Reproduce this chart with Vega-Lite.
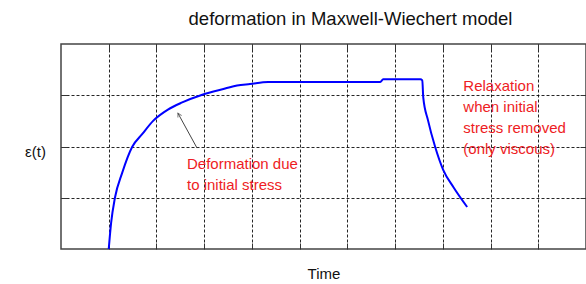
{
  "$schema": "https://vega.github.io/schema/vega-lite/v6.json",
  "width": 525,
  "height": 205,
  "autosize": {"type": "none"},
  "padding": {"left": 61, "top": 44, "right": 0, "bottom": 35},
  "background": "white",
  "title": {
    "text": "deformation in Maxwell-Wiechert model",
    "font": "Liberation Sans",
    "fontSize": 18.5,
    "fontWeight": "normal",
    "color": "#111",
    "anchor": "middle",
    "frame": "group",
    "dx": 27,
    "offset": 15
  },
  "config": {
    "view": {"stroke": "#444", "strokeWidth": 1.5},
    "axis": {
      "grid": true,
      "gridColor": "#000",
      "gridDash": [3, 2],
      "gridWidth": 1,
      "gridOpacity": 0.85,
      "labels": false,
      "domain": false,
      "tickColor": "#333",
      "tickSize": -6,
      "tickWidth": 1,
      "titleFont": "Liberation Sans",
      "titleFontSize": 15,
      "titleFontWeight": "normal",
      "titleColor": "#111"
    }
  },
  "datasets": {
    "curve": [
      {"t": 1.0, "v": 0.0},
      {"t": 1.05, "v": 0.51},
      {"t": 1.13, "v": 1.0},
      {"t": 1.28, "v": 1.48},
      {"t": 1.49, "v": 1.99},
      {"t": 1.7, "v": 2.24},
      {"t": 1.93, "v": 2.5},
      {"t": 2.24, "v": 2.72},
      {"t": 2.54, "v": 2.86},
      {"t": 2.96, "v": 3.01},
      {"t": 3.44, "v": 3.13},
      {"t": 3.69, "v": 3.19},
      {"t": 3.96, "v": 3.22},
      {"t": 4.34, "v": 3.26},
      {"t": 4.95, "v": 3.26},
      {"t": 5.91, "v": 3.26},
      {"t": 6.69, "v": 3.26},
      {"t": 6.75, "v": 3.31},
      {"t": 7.53, "v": 3.31},
      {"t": 7.57, "v": 3.29},
      {"t": 7.59, "v": 2.96},
      {"t": 7.69, "v": 2.51},
      {"t": 7.84, "v": 1.99},
      {"t": 8.01, "v": 1.54},
      {"t": 8.22, "v": 1.21},
      {"t": 8.51, "v": 0.82}
    ],
    "notes": [
      {"t": 2.64, "v": 1.56, "label": "Deformation due\nto initial stress"},
      {"t": 8.43, "v": 3.08, "label": "Relaxation\nwhen initial\nstress removed\n(only viscous)"}
    ],
    "arrow": [
      {"t": 2.85, "v": 1.97, "t2": 2.45, "v2": 2.65}
    ]
  },
  "layer": [
    {
      "data": {"name": "curve"},
      "mark": {"type": "line", "color": "#0000ff", "strokeWidth": 2, "clip": true, "interpolate": "monotone"},
      "encoding": {
        "x": {
          "field": "t", "type": "quantitative",
          "scale": {"domain": [0, 11], "nice": false, "zero": false},
          "axis": {"orient": "bottom", "title": "Time", "values": [1,2,3,4,5,6,7,8,9,10], "titleY": 17, "titleBaseline": "top"}
        },
        "y": {
          "field": "v", "type": "quantitative",
          "scale": {"domain": [0, 4], "nice": false},
          "axis": {"orient": "left", "title": "ε(t)", "values": [1,2,3], "titleAngle": 0, "titleX": -26, "titleY": 107, "titleBaseline": "middle", "titleAlign": "center"}
        }
      }
    },
    {
      "data": {"name": "arrow"},
      "mark": {"type": "rule", "color": "#444", "strokeWidth": 1},
      "encoding": {
        "x": {"field": "t", "type": "quantitative", "axis": {"orient": "top", "title": null, "grid": false, "values": [1,2,3,4,5,6,7,8,9,10]}},
        "y": {"field": "v", "type": "quantitative", "axis": {"orient": "right", "title": null, "grid": false, "values": [1,2,3]}},
        "x2": {"field": "t2"},
        "y2": {"field": "v2"}
      }
    },
    {
      "data": {"name": "arrow"},
      "mark": {"type": "point", "shape": "M-0.55,1 L0,0 L0.55,1", "filled": false, "color": "#444", "strokeWidth": 1, "size": 60, "angle": -28.5},
      "encoding": {
        "x": {"field": "t2", "type": "quantitative", "axis": null},
        "y": {"field": "v2", "type": "quantitative", "axis": null}
      }
    },
    {
      "data": {"name": "notes"},
      "mark": {"type": "text", "color": "#ee1c24", "font": "Liberation Sans", "fontSize": 15, "align": "left", "baseline": "alphabetic", "lineBreak": "\n", "lineHeight": 21},
      "encoding": {
        "x": {"field": "t", "type": "quantitative", "axis": null},
        "y": {"field": "v", "type": "quantitative", "axis": null},
        "text": {"field": "label"}
      }
    }
  ],
  "resolve": {"axis": {"x": "independent", "y": "independent"}}
}
